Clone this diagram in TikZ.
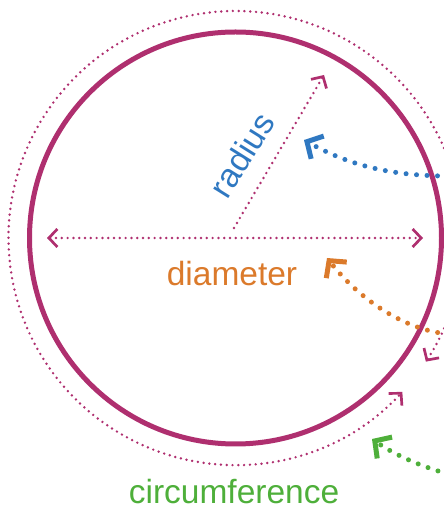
\documentclass[tikz,border=0pt]{standalone}
\usepackage{fontspec}
\setmainfont{Liberation Sans}
\usetikzlibrary{arrows.meta}
\definecolor{rim}{HTML}{AF2F6F}
\definecolor{radblue}{HTML}{2F78C1}
\definecolor{diaorange}{HTML}{DB7A2B}
\definecolor{circgreen}{HTML}{4EAF3A}
\tikzset{
  thin dots/.style={rim, line width=2.7pt, dash pattern=on 0pt off 5.8pt, line cap=round,
    >={Straight Barb[length=8.5pt, width=18pt, sharp]}},
  pointer/.style={line width=5pt, dash pattern=on 0pt off 10.5pt, line cap=round,
    -{Straight Barb[length=12pt, width=26pt, sharp]}}
}
\begin{document}
\begin{tikzpicture}[x=1pt, y=1pt, font=\fontsize{33.5}{40}\selectfont, line join=round]
	\useasboundingbox (0,0) rectangle (444,511);
	\coordinate (O) at (235.5,273);
	\coordinate (dl) at (47,273);
	\coordinate (dr) at (423,273);
	\coordinate (r0) at (234,283);
	\coordinate (r1) at (324,436);
	% the circle and its dotted measures
	\draw[rim, line width=5pt] (O) circle[radius=206];
	\draw[thin dots, <->] ([shift={(-33:227)}]O) arc[start angle=-33, end angle=317.3, radius=227];
	\draw[thin dots, <->] (dl) -- (dr);
	\draw[thin dots, ->] (r0) -- (r1);
	% labels
	\node[radblue, rotate=58] (radlab) at (242,356) {radius};
	\node[diaorange] (dialab) at (232,237) {diameter};
	\node[circgreen] (circlab) at (234,19) {circumference};
	% pointers coming in from the right
	\coordinate (radtail) at (448,335);
	\coordinate (radtip) at (304,371);
	\coordinate (diatail) at (448,177);
	\coordinate (diatip) at (327,253);
	\coordinate (circtail) at (448,37);
	\coordinate (circtip) at (372,72);
	\draw[pointer, radblue] (radtail) .. controls (380,335) and (340,351) .. (radtip);
	\draw[pointer, diaorange] (diatail) .. controls (405,181) and (360,211) .. (diatip);
	\draw[pointer, circgreen] (circtail) .. controls (420,45) and (395,56) .. (circtip);
\end{tikzpicture}
\end{document}
